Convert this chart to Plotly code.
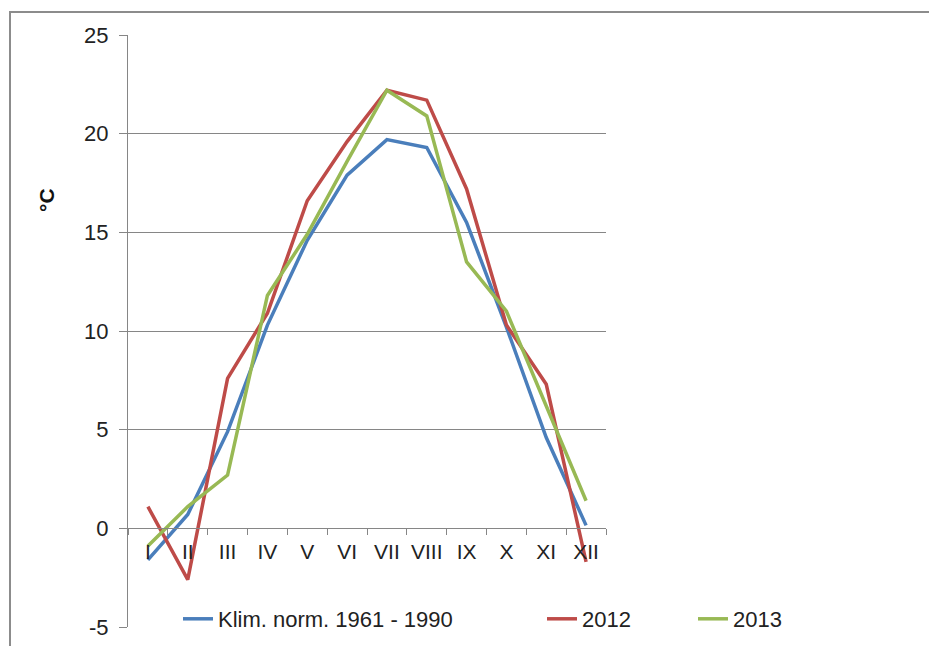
import plotly.graph_objects as go

months = ["I", "II", "III", "IV", "V", "VI", "VII", "VIII", "IX", "X", "XI", "XII"]
klim_norm = [-1.6, 0.7, 4.9, 10.3, 14.6, 17.9, 19.7, 19.3, 15.5, 10.2, 4.6, 0.15]
y2012 = [1.1, -2.6, 7.6, 10.9, 16.6, 19.6, 22.2, 21.7, 17.2, 10.3, 7.3, -1.7]
y2013 = [-0.9, 1.1, 2.7, 11.8, 14.9, 18.6, 22.2, 20.9, 13.5, 11.0, 6.2, 1.4]
y_ticks = [-5, 0, 5, 10, 15, 20, 25]
y_tick_text = ["-5", "0", "5", "10", "15", "20", "25"]
y_title = "°C"

FONT = "Liberation Sans, Arial, sans-serif"
W, H = 929, 646
L, R, T, B = 128, 606, 35, 627

fig = go.Figure()
fig.add_trace(go.Scatter(x=months, y=klim_norm, mode="lines", name="Klim. norm. 1961 - 1990",
                         line=dict(color="#4A7EBB", width=3.5), legend="legend"))
fig.add_trace(go.Scatter(x=months, y=y2012, mode="lines", name="2012",
                         line=dict(color="#BE4B48", width=3.5), legend="legend2"))
fig.add_trace(go.Scatter(x=months, y=y2013, mode="lines", name="2013",
                         line=dict(color="#98B954", width=3.5), legend="legend3"))

leg_common = dict(orientation="h", xref="container", yref="container", yanchor="middle",
                  xanchor="left", y=1 - 619 / H, bgcolor="rgba(0,0,0,0)",
                  font=dict(family=FONT, size=22, color="#222"), itemwidth=30)

fig.update_layout(
    width=W, height=H,
    margin=dict(l=L, r=W - R, t=T, b=H - B, pad=0, autoexpand=False),
    paper_bgcolor="white", plot_bgcolor="white",
    showlegend=True,
    legend=dict(x=178 / W, **leg_common),
    legend2=dict(x=542 / W, **leg_common),
    legend3=dict(x=693 / W, **leg_common),
    xaxis=dict(type="category", categoryorder="array", categoryarray=months,
               anchor="free", position=5 / 30, showline=True, linecolor="#868686", linewidth=1,
               ticks="outside", tickson="boundaries", ticklen=6, tickcolor="#868686",
               showgrid=False, tickfont=dict(family=FONT, size=21, color="#222"),
               tickangle=0, ticklabelstandoff=4, range=[-0.5, 11.5], zeroline=False),
    yaxis=dict(range=[-5, 25], tickvals=y_ticks, ticktext=y_tick_text,
               showgrid=True, gridcolor="#868686", gridwidth=1,
               showline=True, linecolor="#868686", linewidth=1, ticks="outside", ticklen=8,
               tickcolor="#868686", zeroline=False, ticklabelstandoff=6,
               tickfont=dict(family=FONT, size=22, color="#222")),
    annotations=[dict(text="<b>" + y_title + "</b>", textangle=-90, xref="paper", yref="paper",
                      x=(46 - L) / (R - L), y=(B - 200) / (B - T), xanchor="center", yanchor="middle",
                      showarrow=False, font=dict(family=FONT, size=21, color="#111"))],
    shapes=[dict(type="rect", xref="paper", yref="paper",
                 x0=(10 - L) / (R - L), x1=(W + 20 - L) / (R - L),
                 y0=-(H + 20 - B) / (B - T), y1=1 + (T - 12) / (B - T),
                 line=dict(color="#8c8c8c", width=2), layer="below")],
)

fig.write_html("out.html")
